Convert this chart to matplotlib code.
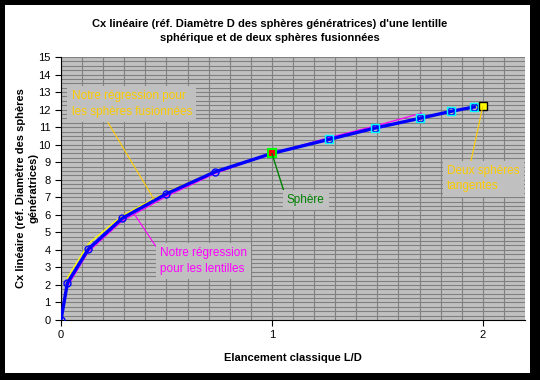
import matplotlib
matplotlib.use("Agg")
import matplotlib.pyplot as plt
from matplotlib.patches import Rectangle
from matplotlib.ticker import MultipleLocator

plt.rcParams['font.family'] = ['Liberation Sans', 'DejaVu Sans']

# measured points (blue curve): lenses then fused spheres
elancement = [0.0, 0.03, 0.13, 0.29, 0.5, 0.73, 1.0, 1.27, 1.49, 1.70, 1.85, 1.96]
cx = [0.0, 2.1, 4.05, 5.8, 7.2, 8.45, 9.5, 10.3, 10.95, 11.5, 11.9, 12.15]

# regression for lenses (magenta)
reg_lent_x = [0.0, 0.03, 0.13, 0.29, 0.5, 0.73, 1.0, 1.27, 1.5, 1.71]
reg_lent_y = [0.0, 1.9, 3.9, 5.65, 7.05, 8.35, 9.5, 10.4, 11.1, 11.8]

# regression for fused spheres (yellow)
reg_sph_x = [0.0, 0.03, 0.13, 0.29, 0.5, 0.73, 1.0, 1.5, 2.0]
reg_sph_y = [0.0, 2.4, 4.35, 5.95, 7.3, 8.5, 9.5, 11.0, 12.2]

sphere = (1.0, 9.5)
tangentes = (2.0, 12.2)

fig = plt.figure(figsize=(5.4, 3.8), dpi=100)
fig.patch.set_facecolor('black')
fig.patches.append(Rectangle((5 / 540, 1 - 373 / 380), 525 / 540, 368 / 380,
                             transform=fig.transFigure, facecolor='white',
                             edgecolor='none', zorder=-1))

ax = fig.add_axes([61 / 540, 1 - 320 / 380, 464 / 540, 263 / 380])
ax.set_facecolor('#C0C0C0')
ax.set_xlim(0, 2.2)
ax.set_ylim(0, 15)
ax.xaxis.set_major_locator(MultipleLocator(1))
ax.yaxis.set_major_locator(MultipleLocator(1))
ax.xaxis.set_minor_locator(MultipleLocator(0.1))
ax.yaxis.set_minor_locator(MultipleLocator(0.25))
ax.grid(True, which='both', color='#808080', linewidth=0.8)
ax.tick_params(which='minor', length=0)
ax.tick_params(which='major', direction='out', length=4, labelsize=8, color='black')
ax.set_axisbelow(True)
for s in ['top', 'right']:
    ax.spines[s].set_visible(False)

ax.plot(reg_sph_x, reg_sph_y, color='yellow', linewidth=0.9, zorder=3)
ax.plot(reg_lent_x, reg_lent_y, color='#FF00FF', linewidth=0.9, zorder=3)
ax.plot(elancement, cx, color='#0000FF', linewidth=2.4, marker='o', markersize=5,
        markerfacecolor='none', markeredgecolor='#0000FF', markeredgewidth=1.0, zorder=4)
ax.plot(elancement[7:], cx[7:], linestyle='none', marker='s', markersize=6,
        markerfacecolor='none', markeredgecolor='#00FFFF', markeredgewidth=1.0, zorder=5)
ax.plot([sphere[0]], [sphere[1]], linestyle='none', marker='s', markersize=6,
        markerfacecolor='red', markeredgecolor='#00FF00', markeredgewidth=1.5, zorder=6)
ax.plot([tangentes[0]], [tangentes[1]], linestyle='none', marker='s', markersize=6,
        markerfacecolor='yellow', markeredgecolor='black', markeredgewidth=1.0, zorder=6)

box = dict(boxstyle='square,pad=0.35', facecolor='#C0C0C0', edgecolor='none')

ax.annotate("Notre régression pour\nles sphères fusionnées", xy=(0.44, 6.9),
            xytext=(0.05, 13.1), ha='left', va='top', fontsize=8.5, color='#FFCC00',
            bbox=box, linespacing=1.4, zorder=7,
            arrowprops=dict(arrowstyle='-', color='#FFCC00', lw=0.8,
                            relpos=(0.28, 0), shrinkA=0, shrinkB=0))
ax.annotate("Notre régression\npour les lentilles", xy=(0.35, 6.0),
            xytext=(0.47, 4.15), ha='left', va='top', fontsize=8.5, color='#FF00FF',
            bbox=box, linespacing=1.4, zorder=7,
            arrowprops=dict(arrowstyle='-', color='#FF00FF', lw=0.8,
                            relpos=(0, 0.8), shrinkA=0, shrinkB=0))
ax.annotate("Sphère", xy=sphere,
            xytext=(1.07, 6.85), ha='left', va='center', fontsize=8.5, color='#008000',
            bbox=box, zorder=7,
            arrowprops=dict(arrowstyle='-', color='#008000', lw=1.0,
                            relpos=(0, 0.5), shrinkA=0, shrinkB=0))
ax.annotate("Deux sphères\ntangentes", xy=tangentes,
            xytext=(1.83, 8.85), ha='left', va='top', fontsize=8.5, color='#FFCC00',
            bbox=box, linespacing=1.4, zorder=7,
            arrowprops=dict(arrowstyle='-', color='#FFCC00', lw=0.8,
                            relpos=(0.32, 1), shrinkA=0, shrinkB=0))

ax.set_xlabel("Elancement classique L/D", fontsize=8, fontweight='bold', labelpad=9)
ax.set_ylabel("Cx linéaire (réf. Diamètre des sphères\ngénératrices)", fontsize=8,
              fontweight='bold', labelpad=0)
fig.text(0.5, 1 - 31 / 380,
         "Cx linéaire (réf. Diamètre D des sphères génératrices) d'une lentille\n"
         "sphérique et de deux sphères fusionnées",
         ha='center', va='center', fontsize=8, fontweight='bold', linespacing=1.6)

fig.savefig("out.png", dpi=100, facecolor=fig.get_facecolor())
